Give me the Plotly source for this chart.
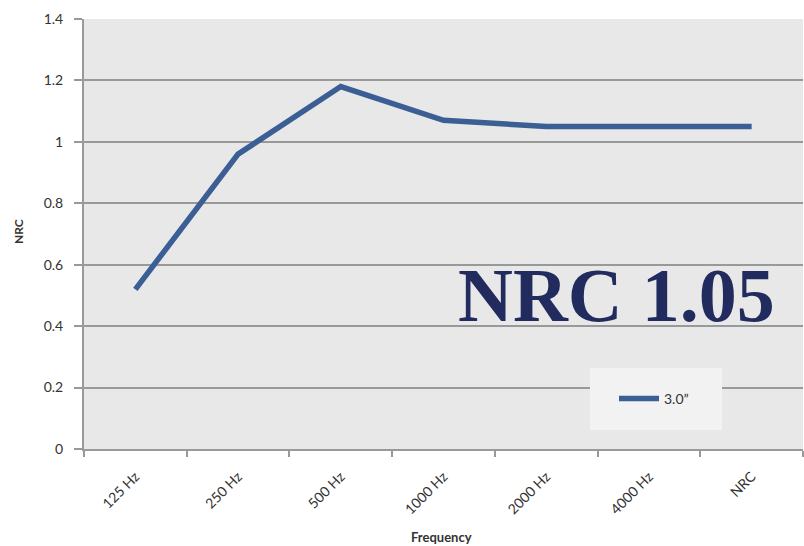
import plotly.graph_objects as go

categories = ["125 Hz", "250 Hz", "500 Hz", "1000 Hz", "2000 Hz", "4000 Hz", "NRC"]
values = [0.52, 0.96, 1.18, 1.07, 1.05, 1.05, 1.05]
series_name = "3.0\u201d"
y_ticks = [0, 0.2, 0.4, 0.6, 0.8, 1.0, 1.2, 1.4]

L, R, T, B = 84, 1, 19, 97
W, H = 804, 546
pw, ph = W - L - R, H - T - B

def px_x(x):
    return (x - L) / pw

def px_y(y):
    return (H - B - y) / ph

fig = go.Figure()
fig.add_trace(go.Scatter(
    x=categories, y=values, mode="lines", name=series_name,
    line=dict(color="#3b5e95", width=5.5),
))

font_family = "Lato, 'Open Sans', sans-serif"

fig.update_layout(
    width=W, height=H,
    margin=dict(l=L, r=R, t=T, b=B, pad=0),
    paper_bgcolor="white",
    plot_bgcolor="#e8e8e8",
    font=dict(family=font_family, size=13, color="#333333"),
    showlegend=True,
    legend=dict(
        x=px_x(614), y=px_y(399), xanchor="left", yanchor="middle",
        bgcolor="rgba(0,0,0,0)", font=dict(size=14, color="#333333"),
        itemwidth=40,
    ),
    xaxis=dict(
        type="category", categoryorder="array", categoryarray=categories,
        range=[-0.5, 6.5], tickangle=-45, tickson="boundaries",
        ticks="outside", ticklen=6, tickcolor="#999999", tickwidth=1.5,
        showline=True, linecolor="#999999", linewidth=2,
        showgrid=False, zeroline=False, ticklabelstandoff=12,
        tickfont=dict(size=14, color="#333333"),
    ),
    yaxis=dict(
        range=[0, 1.4], tickvals=y_ticks,
        ticks="outside", ticklen=8, tickcolor="#999999", tickwidth=1.5,
        showline=True, linecolor="#999999", linewidth=2,
        showgrid=True, gridcolor="#999999", gridwidth=1.5,
        zeroline=False, ticklabelstandoff=8,
        tickfont=dict(size=14, color="#333333"),
    ),
)

# legend box
fig.add_shape(type="rect", xref="paper", yref="paper",
              x0=px_x(590), x1=px_x(722), y0=px_y(430), y1=px_y(368),
              fillcolor="#f2f2f2", line=dict(width=0), layer="above")

# axis titles
fig.add_annotation(text="<b>NRC</b>", xref="paper", yref="paper",
                   x=px_x(18), y=px_y(232), xanchor="center", yanchor="middle",
                   textangle=-90, showarrow=False,
                   font=dict(size=12, color="#333333", family=font_family))
fig.add_annotation(text="<b>Frequency</b>", xref="paper", yref="paper",
                   x=px_x(441), y=px_y(537), xanchor="center", yanchor="middle",
                   showarrow=False,
                   font=dict(size=13, color="#333333", family=font_family))

# big NRC label
fig.add_annotation(text="<b>NRC 1.05</b>", xref="paper", yref="paper",
                   x=px_x(616), y=px_y(295), xanchor="center", yanchor="middle",
                   showarrow=False,
                   font=dict(size=76, color="#222b5e", family="'Liberation Serif', serif"))

fig.write_html("out.html")
